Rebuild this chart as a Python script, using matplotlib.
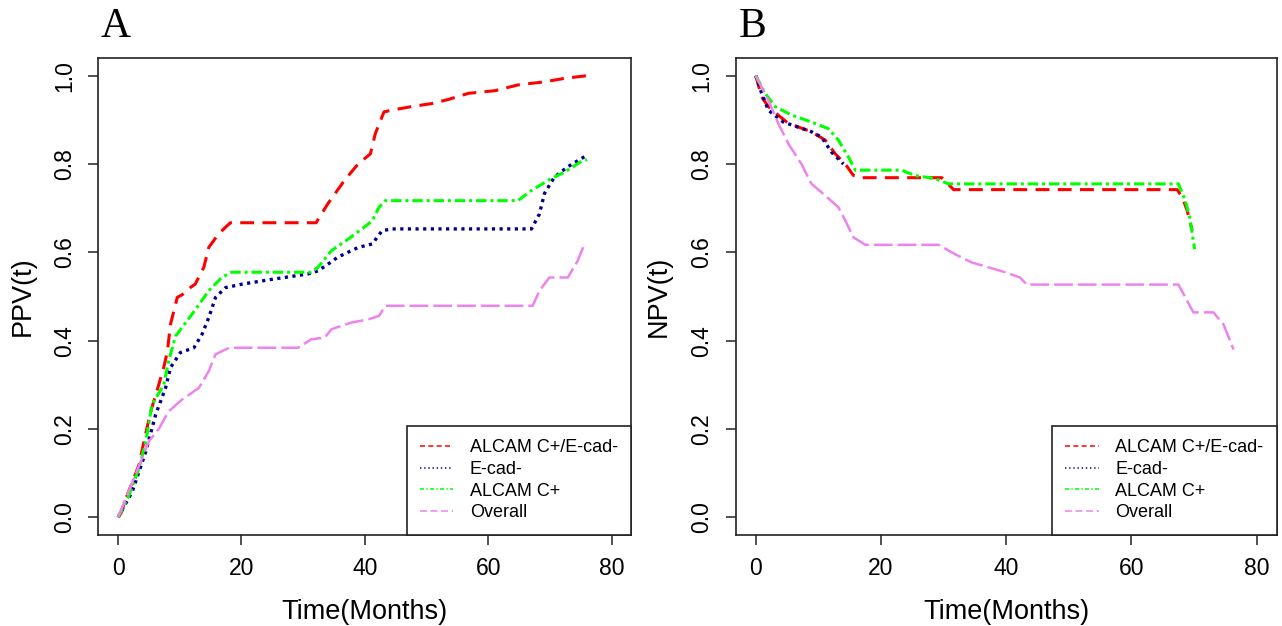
import numpy as np
from matplotlib import pyplot as plt
from matplotlib.lines import Line2D

plt.rcParams['font.family'] = ['Liberation Sans', 'DejaVu Sans']
plt.rcParams['lines.scale_dashes'] = False

LABELS = ["ALCAM C+/E-cad-", "E-cad-", "ALCAM C+", "Overall"]
X_TICKS = [0, 20, 40, 60, 80]
Y_TICKS = [0.0, 0.2, 0.4, 0.6, 0.8, 1.0]

# Panel A: PPV(t)
red_a_t = [0, 0.5, 1.1, 3.4, 4.2, 5.3, 6.3, 7.4, 8.0, 8.5, 9.6, 10.4, 11.7,
           12.5, 13.9, 14.7, 16.3, 18.2, 32.1, 34.0, 36.7, 38.9, 40.9, 41.7,
           43.1, 44.4, 47.6, 50.9, 53.5, 56.8, 61.1, 64.8, 69.1, 72.4, 76.0]
red_a_v = [0, 0.01, 0.036, 0.119, 0.172, 0.24, 0.286, 0.339, 0.376, 0.437,
           0.498, 0.504, 0.52, 0.528, 0.566, 0.611, 0.642, 0.667, 0.667, 0.71,
           0.763, 0.80, 0.823, 0.869, 0.918, 0.922, 0.93, 0.937, 0.946, 0.96,
           0.966, 0.979, 0.986, 0.994, 1.0]
blue_a_t = [0, 2.3, 4.5, 6.1, 7.7, 8.5, 10.1, 12.3, 13.6, 14.7, 15.8, 17.4,
            20.1, 25.0, 30.8, 32.4, 34.0, 35.6, 38.9, 41.2, 42.8, 44.4, 67.0,
            68.3, 69.1, 70.7, 72.8, 76.0]
blue_a_v = [0, 0.058, 0.149, 0.233, 0.293, 0.339, 0.373, 0.384, 0.414, 0.452,
            0.498, 0.52, 0.528, 0.539, 0.551, 0.558, 0.573, 0.589, 0.611,
            0.619, 0.649, 0.653, 0.653, 0.687, 0.733, 0.77, 0.793, 0.82]
green_a_t = [0, 1.8, 3.4, 4.5, 5.5, 7.4, 8.2, 9.3, 12.0, 14.7, 16.8, 18.4,
             31.3, 32.4, 34.6, 37.3, 40.2, 41.2, 42.3, 43.3, 64.8, 67.0, 69.7,
             72.4, 75.0, 76.0]
green_a_v = [0, 0.051, 0.111, 0.172, 0.255, 0.30, 0.354, 0.41, 0.46, 0.513,
             0.543, 0.555, 0.555, 0.566, 0.604, 0.63, 0.66, 0.672, 0.702,
             0.717, 0.717, 0.74, 0.763, 0.782, 0.805, 0.81]
pink_a_t = [0, 2.8, 5.0, 6.6, 8.2, 10.4, 13.1, 14.7, 15.8, 18.0, 29.2, 31.3,
            33.5, 34.6, 37.8, 40.5, 42.3, 43.3, 67.2, 68.3, 69.9, 72.9, 74.5,
            75.6]
pink_a_v = [0, 0.096, 0.172, 0.20, 0.24, 0.267, 0.293, 0.331, 0.369, 0.384,
            0.384, 0.403, 0.407, 0.426, 0.441, 0.448, 0.456, 0.479, 0.479,
            0.513, 0.543, 0.543, 0.581, 0.619]

# Panel B: NPV(t)
red_b_t = [0, 0.95, 2.0, 3.9, 5.2, 8.9, 11.1, 12.7, 14.3, 15.6, 16.9, 29.7,
           31.6, 67.3, 68.1, 68.9, 69.7]
red_b_v = [1.0, 0.952, 0.93, 0.907, 0.892, 0.873, 0.854, 0.823, 0.80, 0.774,
           0.769, 0.769, 0.742, 0.742, 0.725, 0.695, 0.649]
blue_b_t = [0, 0.95, 2.0, 4.4, 8.9, 10.5, 12.1, 14.0]
blue_b_v = [1.0, 0.96, 0.922, 0.895, 0.873, 0.861, 0.827, 0.80]
green_b_t = [0, 1.5, 3.1, 5.7, 8.9, 11.6, 13.2, 14.8, 15.9, 23.3, 25.4, 28.6,
             30.8, 67.5, 68.6, 69.3, 70.1]
green_b_v = [1.0, 0.96, 0.93, 0.911, 0.895, 0.88, 0.854, 0.816, 0.786, 0.786,
             0.774, 0.767, 0.755, 0.755, 0.717, 0.68, 0.607]
pink_b_t = [0, 2.0, 3.6, 5.2, 7.3, 8.9, 10.5, 13.2, 14.3, 15.6, 17.5, 29.2,
            31.8, 34.5, 37.2, 39.8, 42.2, 43.3, 67.5, 68.6, 69.9, 73.1, 74.7,
            76.3]
pink_b_v = [1.0, 0.945, 0.892, 0.846, 0.80, 0.755, 0.736, 0.702, 0.672, 0.634,
            0.617, 0.617, 0.596, 0.577, 0.566, 0.555, 0.543, 0.527, 0.527,
            0.498, 0.464, 0.464, 0.437, 0.38]

COLORS = ["#ff0000", "#00008b", "#00ff00", "#ee82ee"]
# dash patterns in points for the curves and for the (thinner) legend keys
LINE_DASHES = [(10, 6), (2.3, 3.2), (7.5, 2.8, 2.2, 2.8), (13.5, 3.6)]
LINE_WIDTHS = [2.2, 2.4, 2.2, 1.8]
KEY_DASHES = [(3.6, 2.4), (1.0, 2.0), (3.0, 1.6, 1.0, 1.6), (5.0, 2.6)]


def plot_panel(fig, rect, series, ylabel, letter):
    ax = fig.add_axes(rect)
    for (t, v), c, d, lw in zip(series, COLORS, LINE_DASHES, LINE_WIDTHS):
        ax.plot(t, v, color=c, lw=lw, dashes=d, dash_capstyle='butt')

    ax.set_xlim(-3.2, 83.2)
    ax.set_ylim(-0.04, 1.04)
    ax.set_xticks(X_TICKS)
    ax.set_yticks(Y_TICKS)
    ax.set_yticklabels(["{:.1f}".format(y) for y in Y_TICKS])
    ax.tick_params(length=7, width=1.1, labelsize=16.5, pad=9,
                   color='#222222')
    plt.setp(ax.get_yticklabels(), rotation=90, va='center')
    for sp in ax.spines.values():
        sp.set_linewidth(1.2)
        sp.set_color('#222222')

    ax.set_xlabel("Time(Months)", fontsize=19.5)
    ax.xaxis.set_label_coords(0.5, -0.161)
    ax.xaxis.label.set_va('center')
    ax.set_ylabel(ylabel, fontsize=19.5)
    ax.yaxis.set_label_coords(-0.142, 0.5)
    ax.yaxis.label.set_va('center')

    handles = [Line2D([], [], color=c, lw=1.1, dashes=d)
               for c, d in zip(COLORS, KEY_DASHES)]
    leg = ax.legend(handles, LABELS, loc='lower right', fontsize=13,
                    borderaxespad=0, fancybox=False, framealpha=1,
                    edgecolor='#222222', handlelength=1.85,
                    handletextpad=0.9, labelspacing=0.26, borderpad=0.75)
    leg.get_frame().set_linewidth(1.2)

    x0 = rect[0] * 1282
    fig.text((x0 + 17) / 1282, 1 - 27 / 626, letter, fontsize=30,
             family='Liberation Serif', ha='center', va='center')
    return ax


def main():
    fig = plt.figure(figsize=(12.82, 6.26), dpi=100)
    bottom = 1 - 535 / 626
    height = 477 / 626

    series_a = [(red_a_t, red_a_v), (blue_a_t, blue_a_v),
                (green_a_t, green_a_v), (pink_a_t, pink_a_v)]
    series_b = [(red_b_t, red_b_v), (blue_b_t, blue_b_v),
                (green_b_t, green_b_v), (pink_b_t, pink_b_v)]

    plot_panel(fig, [98.3 / 1282, bottom, 533.1 / 1282, height],
               series_a, "PPV(t)", "A")
    plot_panel(fig, [735.7 / 1282, bottom, 541 / 1282, height],
               series_b, "NPV(t)", "B")

    fig.savefig("out.png", dpi=100)


if __name__ == '__main__':
    main()
